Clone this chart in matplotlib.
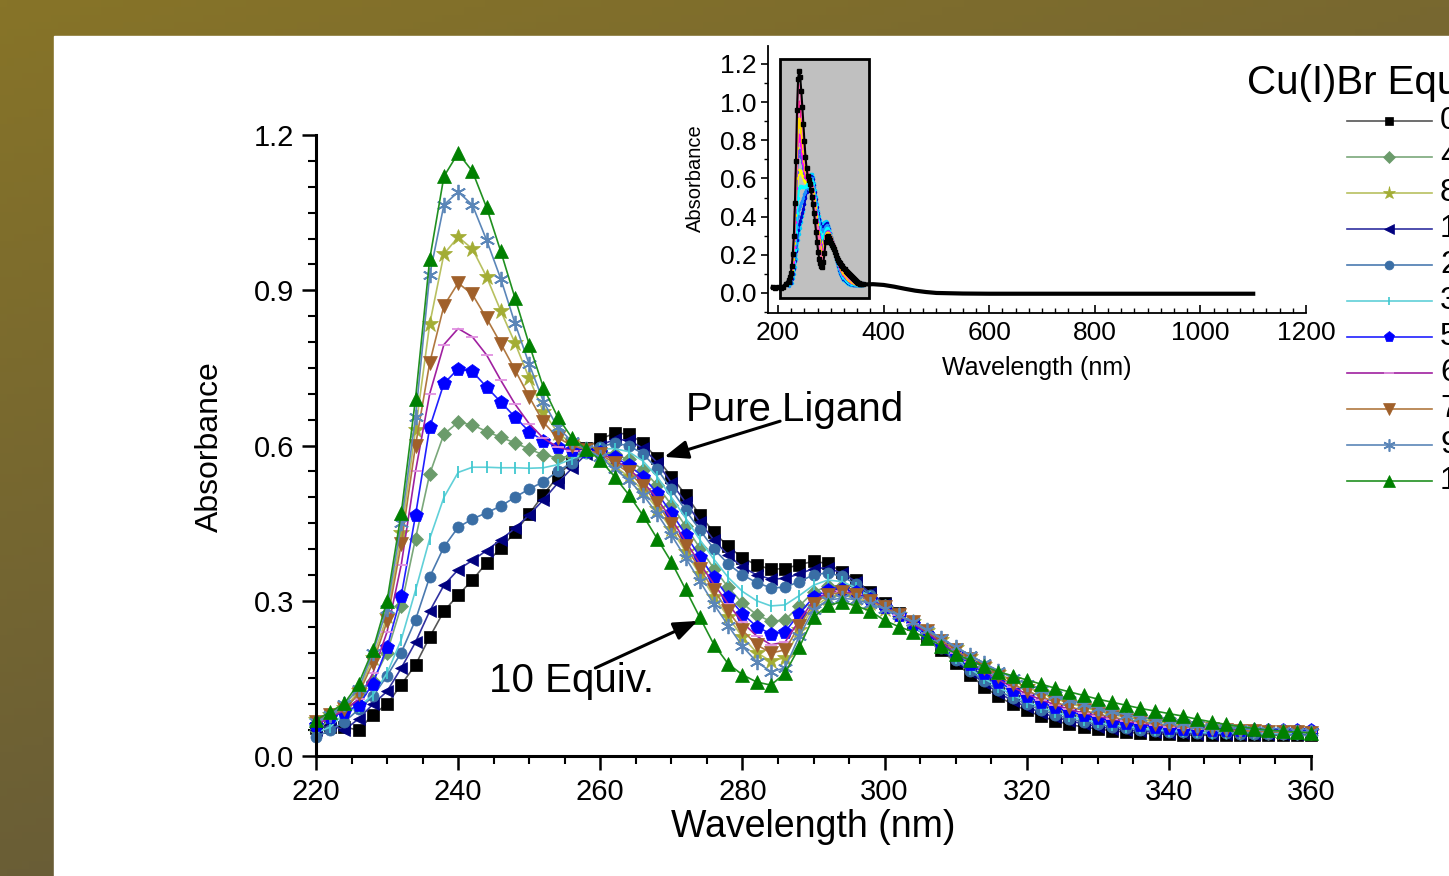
import numpy as np
import matplotlib
matplotlib.use('Agg')
import matplotlib.pyplot as plt
from matplotlib.patches import Rectangle
from matplotlib.ticker import MultipleLocator

plt.rcParams['font.family'] = ['Liberation Sans', 'DejaVu Sans']

# wavelength grid of the titration spectra (nm)
wl = np.arange(220, 361, 2)

abs_0eq = [0.055, 0.056, 0.056, 0.050, 0.080, 0.100, 0.138, 0.176, 0.230, 0.280,
           0.311, 0.340, 0.373, 0.402, 0.432, 0.468, 0.505, 0.540, 0.570, 0.595,
           0.612, 0.624, 0.622, 0.605, 0.575, 0.540, 0.505, 0.466, 0.432, 0.405,
           0.383, 0.369, 0.361, 0.362, 0.370, 0.376, 0.372, 0.356, 0.340, 0.316,
           0.295, 0.276, 0.255, 0.230, 0.205, 0.180, 0.157, 0.134, 0.115, 0.100,
           0.088, 0.077, 0.068, 0.061, 0.056, 0.052, 0.049, 0.046, 0.044, 0.043,
           0.042, 0.041, 0.040, 0.040, 0.040, 0.040, 0.040, 0.040, 0.040, 0.041,
           0.041]
abs_1eq = [0.050, 0.060, 0.050, 0.072, 0.100, 0.125, 0.170, 0.220, 0.280, 0.330,
           0.360, 0.378, 0.397, 0.418, 0.440, 0.466, 0.495, 0.527, 0.556, 0.583,
           0.600, 0.612, 0.610, 0.595, 0.567, 0.528, 0.490, 0.452, 0.417, 0.388,
           0.365, 0.350, 0.342, 0.343, 0.352, 0.362, 0.364, 0.353, 0.337, 0.315,
           0.294, 0.274, 0.253, 0.230, 0.207, 0.184, 0.162, 0.141, 0.122, 0.107,
           0.095, 0.084, 0.075, 0.068, 0.062, 0.057, 0.053, 0.050, 0.048, 0.046,
           0.045, 0.044, 0.043, 0.042, 0.042, 0.042, 0.042, 0.042, 0.042, 0.042,
           0.042]
abs_2eq = [0.037, 0.050, 0.066, 0.090, 0.115, 0.155, 0.200, 0.263, 0.346, 0.404,
           0.442, 0.458, 0.470, 0.483, 0.500, 0.516, 0.530, 0.550, 0.567, 0.585,
           0.598, 0.604, 0.600, 0.584, 0.555, 0.515, 0.475, 0.437, 0.400, 0.371,
           0.350, 0.335, 0.325, 0.326, 0.337, 0.350, 0.354, 0.347, 0.332, 0.312,
           0.292, 0.272, 0.252, 0.230, 0.208, 0.186, 0.165, 0.145, 0.127, 0.112,
           0.100, 0.089, 0.080, 0.072, 0.066, 0.061, 0.057, 0.054, 0.051, 0.049,
           0.047, 0.046, 0.045, 0.044, 0.044, 0.043, 0.043, 0.043, 0.043, 0.043,
           0.043]
abs_3eq = [0.045, 0.056, 0.083, 0.095, 0.118, 0.160, 0.225, 0.320, 0.420, 0.500,
           0.548, 0.558, 0.558, 0.557, 0.557, 0.556, 0.557, 0.563, 0.574, 0.586,
           0.593, 0.594, 0.588, 0.570, 0.540, 0.500, 0.460, 0.418, 0.380, 0.345,
           0.318, 0.300, 0.290, 0.292, 0.310, 0.330, 0.340, 0.337, 0.325, 0.308,
           0.290, 0.271, 0.252, 0.231, 0.210, 0.189, 0.169, 0.150, 0.133, 0.118,
           0.105, 0.094, 0.085, 0.077, 0.070, 0.065, 0.060, 0.057, 0.054, 0.051,
           0.049, 0.048, 0.046, 0.045, 0.045, 0.044, 0.044, 0.044, 0.044, 0.044,
           0.044]
abs_4eq = [0.050, 0.070, 0.090, 0.120, 0.145, 0.200, 0.290, 0.420, 0.545, 0.622,
           0.645, 0.640, 0.627, 0.616, 0.605, 0.593, 0.582, 0.576, 0.580, 0.589,
           0.590, 0.583, 0.573, 0.553, 0.523, 0.485, 0.444, 0.402, 0.362, 0.326,
           0.295, 0.273, 0.260, 0.263, 0.290, 0.317, 0.328, 0.329, 0.320, 0.306,
           0.289, 0.271, 0.253, 0.233, 0.213, 0.192, 0.173, 0.155, 0.138, 0.123,
           0.110, 0.099, 0.089, 0.081, 0.074, 0.068, 0.063, 0.059, 0.056, 0.053,
           0.051, 0.049, 0.048, 0.047, 0.046, 0.045, 0.045, 0.045, 0.045, 0.045,
           0.045]
abs_5eq = [0.060, 0.075, 0.085, 0.098, 0.140, 0.210, 0.310, 0.465, 0.635, 0.720,
           0.748, 0.743, 0.713, 0.684, 0.655, 0.627, 0.609, 0.598, 0.591, 0.590,
           0.588, 0.577, 0.562, 0.540, 0.508, 0.470, 0.428, 0.385, 0.345, 0.307,
           0.275, 0.250, 0.236, 0.240, 0.275, 0.307, 0.320, 0.323, 0.316, 0.303,
           0.288, 0.272, 0.255, 0.236, 0.217, 0.197, 0.178, 0.160, 0.143, 0.128,
           0.115, 0.104, 0.094, 0.086, 0.079, 0.073, 0.068, 0.064, 0.060, 0.057,
           0.055, 0.053, 0.052, 0.051, 0.050, 0.050, 0.050, 0.050, 0.050, 0.050,
           0.050]
abs_6eq = [0.060, 0.075, 0.088, 0.110, 0.160, 0.240, 0.370, 0.550, 0.700, 0.795,
           0.826, 0.810, 0.775, 0.726, 0.680, 0.642, 0.614, 0.597, 0.590, 0.590,
           0.585, 0.572, 0.555, 0.530, 0.497, 0.458, 0.415, 0.372, 0.332, 0.294,
           0.258, 0.232, 0.215, 0.220, 0.262, 0.300, 0.316, 0.319, 0.313, 0.301,
           0.287, 0.272, 0.256, 0.238, 0.219, 0.200, 0.181, 0.164, 0.148, 0.133,
           0.120, 0.109, 0.099, 0.090, 0.083, 0.077, 0.071, 0.067, 0.063, 0.060,
           0.057, 0.055, 0.053, 0.051, 0.050, 0.049, 0.048, 0.047, 0.047, 0.046,
           0.046]
abs_7eq = [0.065, 0.080, 0.090, 0.120, 0.180, 0.260, 0.410, 0.600, 0.760, 0.870,
           0.914, 0.892, 0.846, 0.797, 0.746, 0.694, 0.645, 0.615, 0.600, 0.592,
           0.583, 0.566, 0.548, 0.522, 0.488, 0.448, 0.405, 0.362, 0.320, 0.280,
           0.243, 0.215, 0.199, 0.205, 0.252, 0.294, 0.312, 0.316, 0.311, 0.300,
           0.287, 0.273, 0.258, 0.241, 0.223, 0.205, 0.187, 0.170, 0.154, 0.139,
           0.126, 0.115, 0.104, 0.095, 0.088, 0.081, 0.075, 0.070, 0.066, 0.062,
           0.059, 0.057, 0.054, 0.052, 0.050, 0.049, 0.048, 0.047, 0.046, 0.046,
           0.045]
abs_8eq = [0.070, 0.080, 0.092, 0.125, 0.190, 0.270, 0.430, 0.630, 0.835, 0.970,
           1.003, 0.980, 0.926, 0.860, 0.798, 0.730, 0.665, 0.625, 0.603, 0.592,
           0.580, 0.560, 0.540, 0.513, 0.478, 0.438, 0.395, 0.351, 0.308, 0.268,
           0.230, 0.200, 0.183, 0.190, 0.243, 0.288, 0.306, 0.310, 0.306, 0.296,
           0.285, 0.272, 0.258, 0.242, 0.225, 0.208, 0.191, 0.175, 0.160, 0.146,
           0.133, 0.122, 0.111, 0.102, 0.094, 0.087, 0.080, 0.075, 0.070, 0.066,
           0.063, 0.060, 0.057, 0.055, 0.053, 0.051, 0.049, 0.048, 0.047, 0.046,
           0.046]
abs_9eq = [0.065, 0.080, 0.100, 0.130, 0.200, 0.285, 0.450, 0.655, 0.930, 1.065,
           1.090, 1.065, 0.997, 0.922, 0.836, 0.757, 0.685, 0.635, 0.608, 0.593,
           0.577, 0.555, 0.533, 0.505, 0.468, 0.427, 0.383, 0.338, 0.293, 0.252,
           0.212, 0.182, 0.163, 0.170, 0.232, 0.282, 0.301, 0.305, 0.302, 0.294,
           0.284, 0.272, 0.259, 0.244, 0.228, 0.211, 0.195, 0.179, 0.165, 0.151,
           0.139, 0.128, 0.118, 0.109, 0.100, 0.093, 0.086, 0.080, 0.075, 0.071,
           0.067, 0.063, 0.060, 0.057, 0.055, 0.053, 0.051, 0.049, 0.048, 0.047,
           0.046]
abs_10eq = [0.070, 0.085, 0.102, 0.140, 0.205, 0.300, 0.470, 0.690, 0.960, 1.120,
            1.165, 1.130, 1.060, 0.975, 0.885, 0.795, 0.712, 0.655, 0.615, 0.593,
            0.572, 0.540, 0.505, 0.465, 0.420, 0.375, 0.322, 0.268, 0.215, 0.178,
            0.157, 0.143, 0.137, 0.160, 0.210, 0.268, 0.291, 0.298, 0.290, 0.280,
            0.262, 0.250, 0.240, 0.228, 0.213, 0.198, 0.185, 0.173, 0.163, 0.155,
            0.147, 0.139, 0.131, 0.124, 0.117, 0.110, 0.104, 0.098, 0.092, 0.087,
            0.082, 0.077, 0.071, 0.066, 0.061, 0.057, 0.053, 0.050, 0.048, 0.046,
            0.045]

# full-range spectrum parts shown only in the inset
inset_head_wl = [190, 195, 200, 205, 210, 215, 220]
inset_head_abs = [0.030, 0.025, 0.030, 0.028, 0.032, 0.045, 0.060]
inset_tail_wl = [360, 370, 380, 400, 420, 440, 460, 480, 500, 550, 600, 700, 800, 900, 1000, 1100]
inset_tail_abs = [0.045, 0.045, 0.046, 0.042, 0.033, 0.022, 0.012, 0.005, 0.000, -0.003,
                  -0.004, -0.004, -0.004, -0.004, -0.004, -0.004]

legend_labels = ['0', '4', '8', '1', '2', '3', '5', '6', '7', '9', '10']

# (data, marker colour, line colour, marker, size, inset colour) in legend order
series = [
    (abs_0eq, 'black', '#555555', 's', 8, '#00d0ff'),
    (abs_4eq, '#6b9b6b', '#7aa87a', 'D', 7.5, '#ffff00'),
    (abs_8eq, '#a3ad35', '#b8c060', '*', 12, '#ff1493'),
    (abs_1eq, '#00007f', '#3030a0', '<', 9, '#0000cd'),
    (abs_2eq, '#3a6ea5', '#4a7ab0', 'o', 8, '#1e90ff'),
    (abs_3eq, '#40c8d0', '#60d0d8', '|', 8, '#00ffff'),
    (abs_5eq, '#0000ff', '#2020ff', 'p', 10, '#4169e1'),
    (abs_6eq, '#e090e0', '#a020a0', '_', 9, '#ff00ff'),
    (abs_7eq, '#a0602a', '#b07840', 'v', 10, '#ffd700'),
    (abs_9eq, '#5b86b8', '#5b86b8', (6, 2, 0), 11, '#ff69b4'),
    (abs_10eq, '#008000', '#209020', '^', 10.5, 'black'),
]

W, H = 1449, 876
fig = plt.figure(figsize=(W / 100, H / 100), dpi=100)


def fx(px):
    return px / W


def fy(py):
    return 1 - py / H


# olive gradient frame with the white slide panel
bg = fig.add_axes([0, 0, 1, 1])
bg.set_axis_off()
u = np.linspace(0, 1, 200)[None, :, None]
v = np.linspace(0, 1, 120)[:, None, None]
c_tl = np.array([135, 116, 40]) / 255
c_tr = np.array([120, 104, 48]) / 255
c_bl = np.array([106, 94, 54]) / 255
img = c_tl + (c_tr - c_tl) * u + (c_bl - c_tl) * v
bg.imshow(np.clip(img, 0, 1), extent=(0, W, H, 0), aspect='auto')
bg.add_patch(Rectangle((54, 36), W - 54, H - 36, color='white'))
bg.set_xlim(0, W)
bg.set_ylim(H, 0)

# main axes
ax = fig.add_axes([fx(316), fy(756), (1311 - 316) / W, (756 - 135) / H])
ax.patch.set_alpha(0)
for data, mc, lc, mk, ms, _ in series:
    ax.plot(wl, data, color=lc, lw=1.2, marker=mk, ms=ms, mfc=mc, mec=mc,
            mew=1.3 if mk in ('|', '_', (6, 2, 0)) else 0.5, clip_on=False)
ax.set_xlim(220, 360)
ax.set_ylim(0, 1.2)
ax.xaxis.set_major_locator(MultipleLocator(20))
ax.xaxis.set_minor_locator(MultipleLocator(5))
ax.yaxis.set_major_locator(MultipleLocator(0.3))
ax.yaxis.set_minor_locator(MultipleLocator(0.05))
ax.yaxis.set_major_formatter(matplotlib.ticker.FormatStrFormatter('%.1f'))
for s in ['top', 'right']:
    ax.spines[s].set_visible(False)
for s in ['left', 'bottom']:
    ax.spines[s].set_linewidth(2.2)
ax.tick_params(which='major', direction='out', length=10, width=1.8,
               labelsize=21, pad=6)
ax.tick_params(which='minor', direction='out', length=5.5, width=1.5)

fig.text(fx(210), fy(447), 'Absorbance', rotation=90, ha='center', va='center',
         fontsize=23)
fig.text(fx(813), fy(827), 'Wavelength (nm)', ha='center', va='center',
         fontsize=27)

arrow = dict(arrowstyle='-|>,head_length=0.9,head_width=0.35', color='black',
             lw=2.2, mutation_scale=16, shrinkA=0, shrinkB=0)
ax.annotate('', xy=(269.0, 0.578), xytext=(285.3, 0.647), arrowprops=arrow)
ax.text(287.3, 0.669, 'Pure Ligand', ha='center', va='center', fontsize=29)
ax.annotate('', xy=(273.7, 0.261), xytext=(259.3, 0.170), arrowprops=arrow)
ax.text(255.9, 0.145, '10 Equiv.', ha='center', va='center', fontsize=29)

# inset with the full spectral range
axi = fig.add_axes([fx(768), fy(313), (1306 - 768) / W, (313 - 46) / H])
axi.patch.set_alpha(0)
axi.add_patch(Rectangle((204, -0.026), 168, 1.252, facecolor='#c0c0c0',
                        edgecolor='black', lw=2, zorder=0))
for data, _, _, _, _, ic in series:
    if ic == 'black':
        axi.plot(wl, data, color='black', lw=1.5, marker='s', ms=2.5, zorder=3)
    else:
        axi.plot(wl, data, color=ic, lw=1.5, marker='.', ms=3, zorder=2)
axi.plot(inset_head_wl, inset_head_abs, color='black', lw=3, marker='s', ms=2.5, zorder=3)
axi.plot(inset_tail_wl, inset_tail_abs, color='black', lw=3, zorder=3)
axi.set_xlim(181, 1200)
axi.set_ylim(-0.105, 1.294)
axi.xaxis.set_major_locator(MultipleLocator(200))
axi.xaxis.set_minor_locator(MultipleLocator(25))
axi.yaxis.set_major_locator(MultipleLocator(0.2))
axi.yaxis.set_minor_locator(MultipleLocator(0.1))
axi.yaxis.set_major_formatter(matplotlib.ticker.FormatStrFormatter('%.1f'))
for s in ['top', 'right']:
    axi.spines[s].set_visible(False)
for s in ['left', 'bottom']:
    axi.spines[s].set_linewidth(1.3)
axi.tick_params(axis='x', which='major', direction='in', length=6, width=1.2,
                labelsize=19, pad=6)
axi.tick_params(axis='x', which='minor', direction='in', length=3.5, width=1)
axi.tick_params(axis='y', which='major', direction='out', length=5, width=1.2,
                labelsize=19, pad=3)
axi.tick_params(axis='y', which='minor', direction='out', length=3, width=1)
fig.text(fx(695), fy(178), 'Absorbance', rotation=90, ha='center', va='center',
         fontsize=14.5)
fig.text(fx(1037), fy(368), 'Wavelength (nm)', ha='center', va='center',
         fontsize=18)

# legend drawn at the right edge of the slide (cut off by the page border)
lg = fig.add_axes([0, 0, 1, 1])
lg.set_axis_off()
lg.patch.set_alpha(0)
lg.set_xlim(0, W)
lg.set_ylim(H, 0)
lg.text(1247, 83, 'Cu(I)Br Equiv.', ha='left', va='center', fontsize=29)
for i, ((data, mc, lc, mk, ms, _), lab) in enumerate(zip(series, legend_labels)):
    y = 121 + 36 * i
    lg.plot([1347, 1432], [y, y], color=lc, lw=1.2)
    lg.plot([1389], [y], marker=mk, ms=ms * 0.8, mfc=mc, mec=mc,
            mew=1.2 if mk in ('|', '_', (6, 2, 0)) else 0.5)
    lg.text(1440, y, lab, ha='left', va='center', fontsize=23)

fig.savefig('out.png', dpi=100)
